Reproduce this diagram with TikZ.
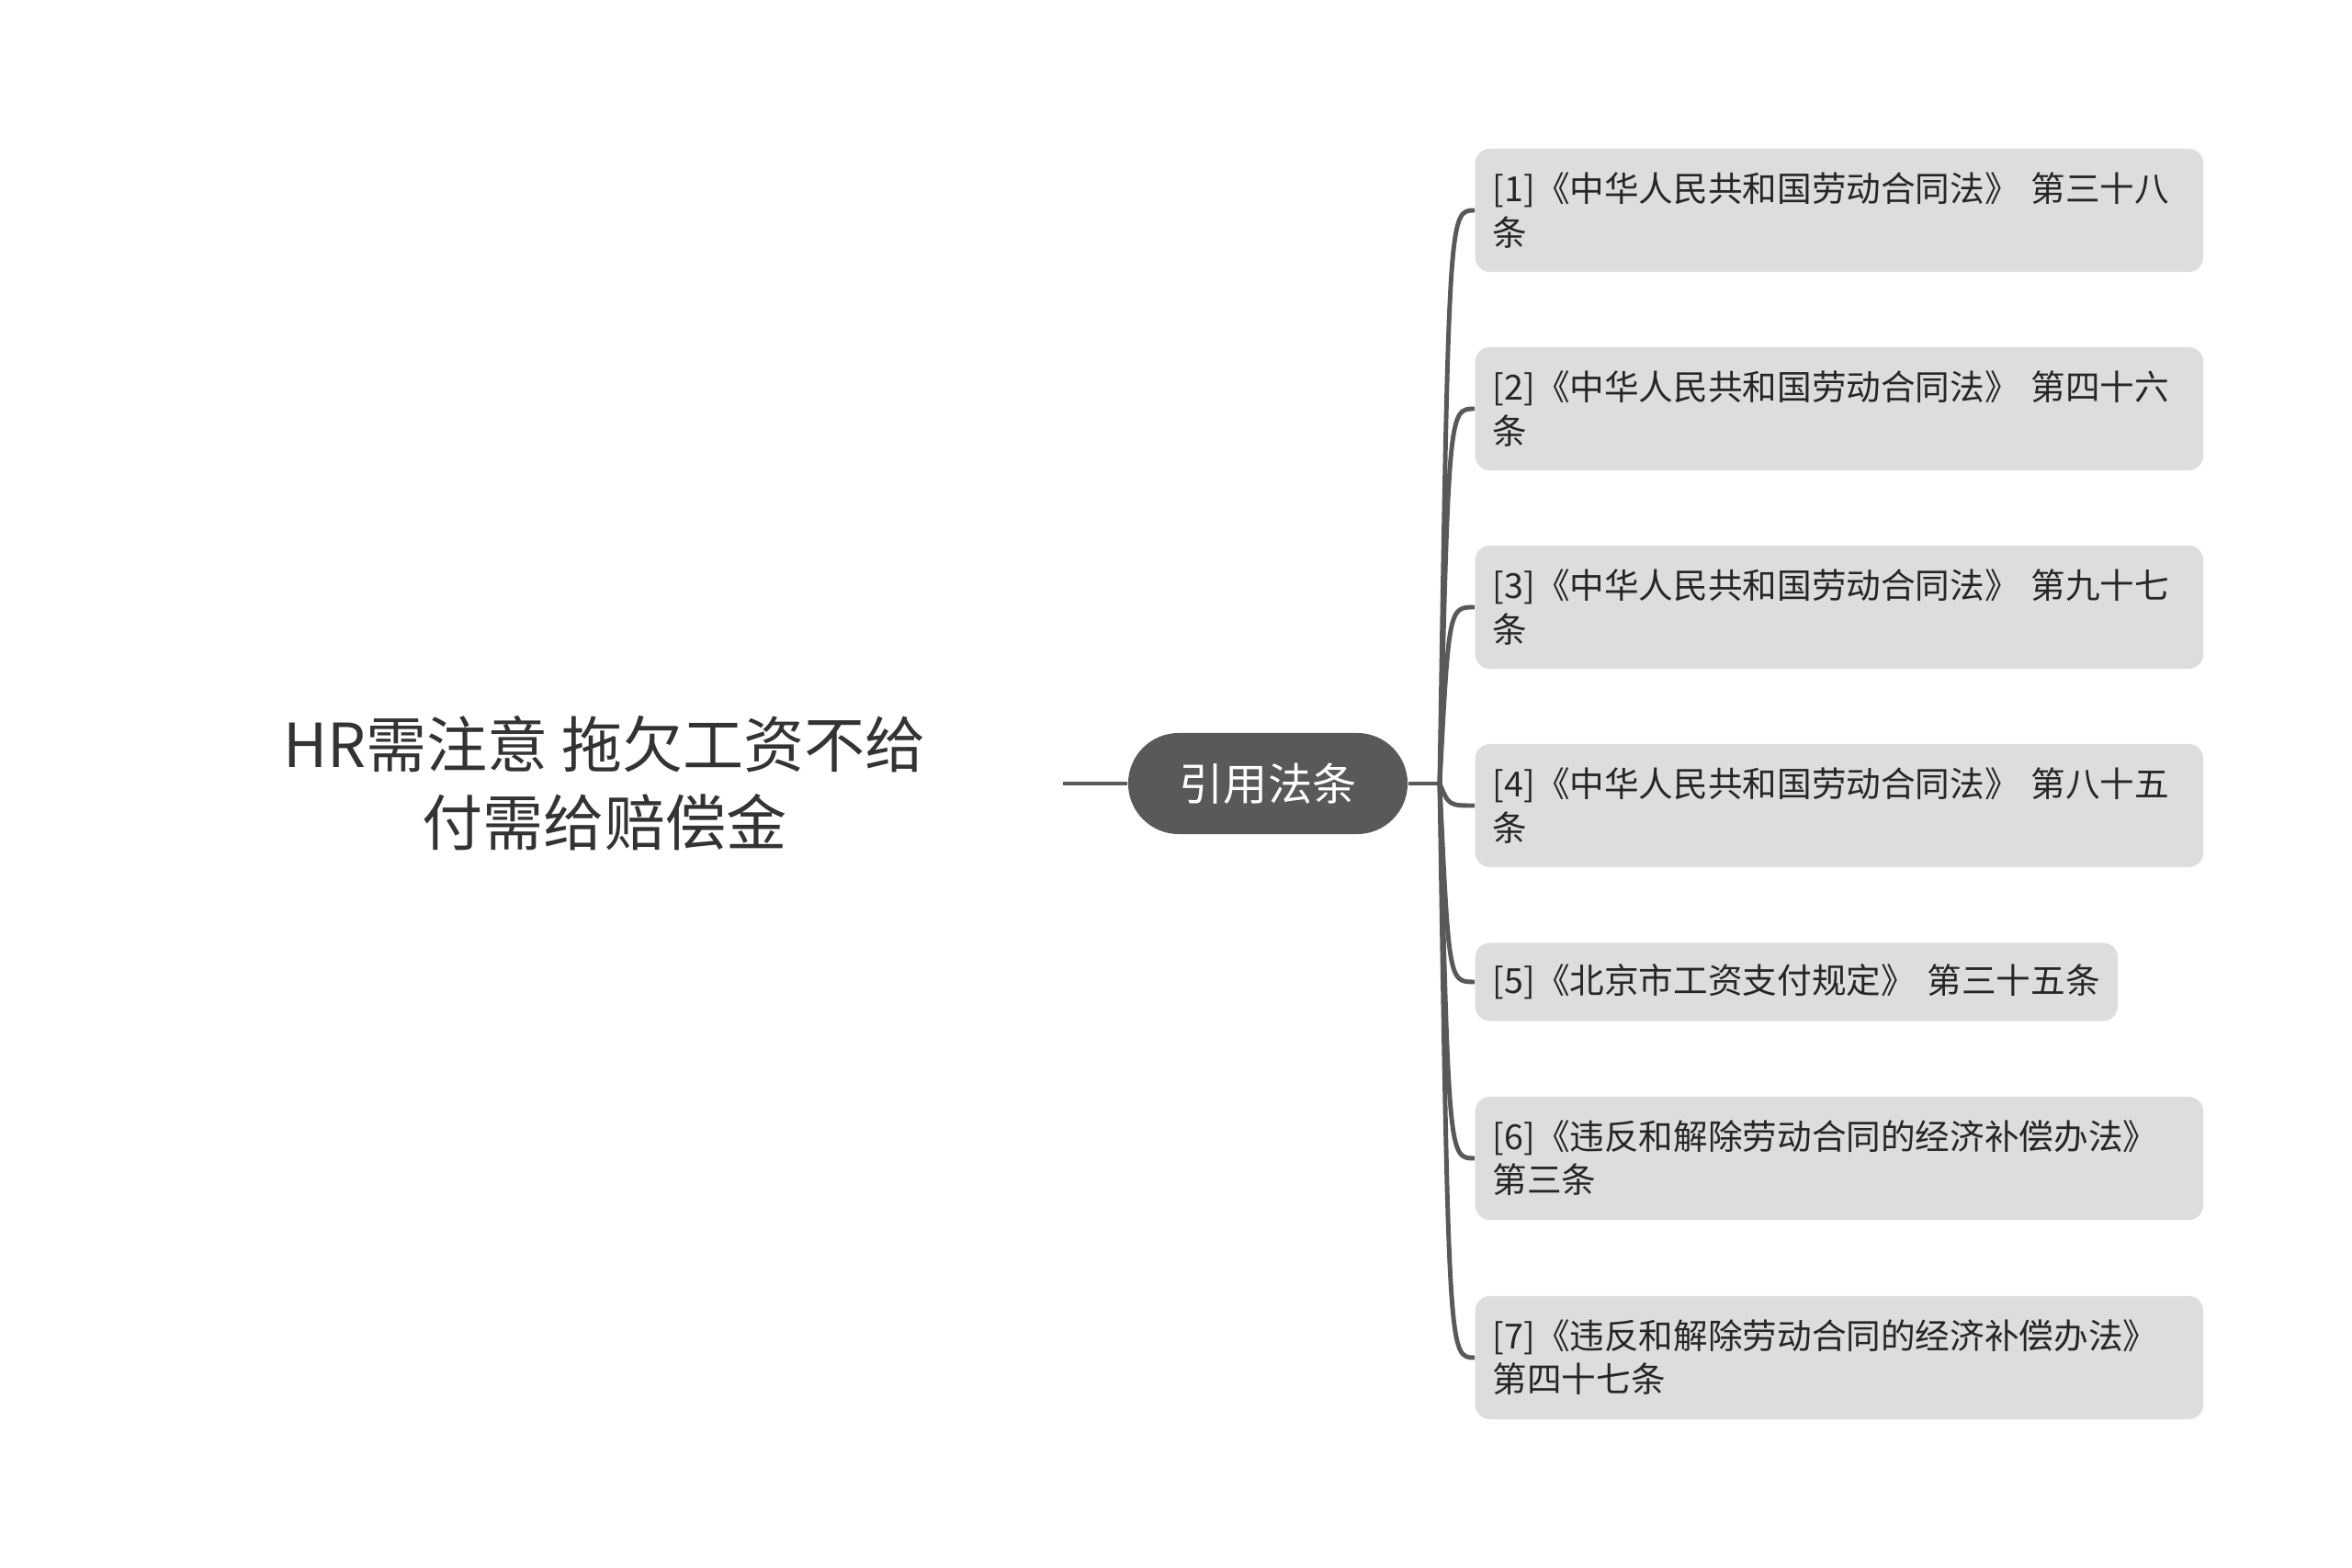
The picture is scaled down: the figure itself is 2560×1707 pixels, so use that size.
\documentclass[tikz,border=0pt]{standalone}
\usepackage{fontspec}
\setmainfont{Noto Sans CJK SC}
\definecolor{linegray}{HTML}{595959}
\definecolor{boxgray}{HTML}{DDDDDD}
\definecolor{textgray}{HTML}{333333}
\begin{document}
\begin{tikzpicture}[x=0.01cm, y=-0.01cm,
    topic/.style={align=center, text=textgray, minimum width=9.96cm,
        font=\fontsize{18.8}{24.2}\selectfont},
    cite/.style={fill=linegray, text=white, rounded corners=0.55cm,
        minimum width=3.04cm, minimum height=1.1cm,
        font=\fontsize{13.7}{16}\selectfont},
    leaf/.style={fill=boxgray, rounded corners=0.16cm, anchor=west, align=left,
        text width=7.54cm, inner xsep=0.19cm, minimum height=1.34cm,
        text=black!85, font=\fontsize{10.7}{13.4}\selectfont},
    link/.style={draw=linegray, line width=1.4pt}]
    \useasboundingbox (0,0) rectangle (2560,1707);

    % Central topic and main branch
    \node[topic] (T) at (658,853) {HR需注意 拖欠工资不给\\付需给赔偿金};
    \node[cite] (C) at (1380,853) {引用法条};
    \coordinate (hub) at (1567,853);
    \coordinate (bend) at (1577,853);

    % Cited articles
    \node[leaf] (L1) at (1605,229) {[1]《中华人民共和国劳动合同法》 第三十八\\条};
    \node[leaf] (L2) at (1605,445) {[2]《中华人民共和国劳动合同法》 第四十六\\条};
    \node[leaf] (L3) at (1605,661) {[3]《中华人民共和国劳动合同法》 第九十七\\条};
    \node[leaf] (L4) at (1605,877) {[4]《中华人民共和国劳动合同法》 第八十五\\条};
    \node[leaf, text width=6.61cm, minimum height=0.85cm] (L5) at (1605,1069) {[5]《北京市工资支付规定》 第三十五条};
    \node[leaf] (L6) at (1605,1261) {[6]《违反和解除劳动合同的经济补偿办法》\\第三条};
    \node[leaf] (L7) at (1605,1478) {[7]《违反和解除劳动合同的经济补偿办法》\\第四十七条};

    % Connectors
    \draw[link] (T) -- (C);
    \draw[link] (C) -- (hub);
    \draw[link] (hub) .. controls (bend |- L1.west) and (bend |- L1.west) .. (L1.west);
    \draw[link] (hub) .. controls (bend |- L2.west) and (bend |- L2.west) .. (L2.west);
    \draw[link] (hub) .. controls (bend |- L3.west) and (bend |- L3.west) .. (L3.west);
    \draw[link] (hub) .. controls (bend |- L4.west) and (bend |- L4.west) .. (L4.west);
    \draw[link] (hub) .. controls (bend |- L5.west) and (bend |- L5.west) .. (L5.west);
    \draw[link] (hub) .. controls (bend |- L6.west) and (bend |- L6.west) .. (L6.west);
    \draw[link] (hub) .. controls (bend |- L7.west) and (bend |- L7.west) .. (L7.west);
\end{tikzpicture}
\end{document}
